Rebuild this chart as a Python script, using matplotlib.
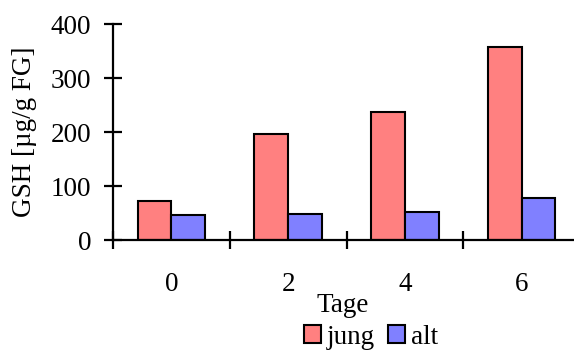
import matplotlib
matplotlib.use("Agg")
import matplotlib.pyplot as plt
import numpy as np
from matplotlib.patches import Patch

days = ["0", "2", "4", "6"]
jung = [72, 196, 237, 357]
alt = [46, 48, 51, 77]
series_names = ["jung", "alt"]
colors = ["#FF8080", "#8080FF"]

plt.rcParams["font.family"] = ["Liberation Serif", "DejaVu Serif"]
FS = 19.5

W, H = 574, 352
fig = plt.figure(figsize=(W / 100, H / 100), dpi=100)
ax = fig.add_axes([113 / W, (H - 240) / H, (573 - 113) / W, (240 - 24) / H])

x = np.arange(len(days))
bw = 0.29
ax.bar(x - bw / 2, jung, bw, color=colors[0], edgecolor="black", linewidth=1.5)
ax.bar(x + bw / 2, alt, bw, color=colors[1], edgecolor="black", linewidth=1.5)

ax.set_xlim(-0.5, 3.44)
ax.set_ylim(0, 400)

for s in ["top", "right"]:
    ax.spines[s].set_visible(False)
for s in ["left", "bottom"]:
    ax.spines[s].set_linewidth(1.6)

ax.set_yticks([0, 100, 200, 300, 400])
ax.tick_params(axis="y", direction="inout", length=13, width=1.6, labelsize=FS, pad=9)

ax.set_xticks([-0.5, 0.5, 1.5, 2.5])
ax.set_xticklabels([])
ax.set_xticks(x, minor=True)
ax.set_xticklabels(days, minor=True)
ax.tick_params(axis="x", which="major", direction="inout", length=13, width=1.6)
ax.tick_params(axis="x", which="minor", length=0, labelsize=FS, pad=23)

ax.set_ylabel("GSH [µg/g FG]", fontsize=FS, labelpad=10)
ax.set_xlabel("Tage", fontsize=FS, labelpad=-3)

handles = [Patch(facecolor=c, edgecolor="black", linewidth=1.5) for c in colors]
fig.legend(handles, series_names, loc="center", bbox_to_anchor=(371 / W, (H - 337) / H),
           ncol=2, frameon=False, fontsize=FS, handlelength=0.63, handleheight=0.63,
           handletextpad=0.22, columnspacing=0.48, borderpad=0)

fig.savefig("out.png", dpi=100)
